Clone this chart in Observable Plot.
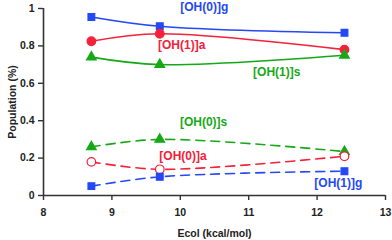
<!DOCTYPE html>
<html>
<head>
<meta charset="utf-8">
<script src="https://cdn.jsdelivr.net/npm/d3@7"></script>
<script src="https://cdn.jsdelivr.net/npm/@observablehq/plot@0.6"></script>
<style>
  html, body { margin: 0; padding: 0; background: #fff; }
  svg { display: block; }
</style>
</head>
<body>
<div id="chart"></div>
<script>
// Data
const ecol = [8.7, 9.7, 12.4];
const oh0g = [0.955, 0.905, 0.87];
const oh1a = [0.825, 0.865, 0.78];
const oh1s = [0.74, 0.70, 0.75];
const oh0s = [0.26, 0.30, 0.235];
const oh0a = [0.18, 0.14, 0.21];
const oh1g = [0.05, 0.10, 0.13];
const xTicks = [8, 9, 10, 11, 12, 13];
const yTicks = [0, 0.2, 0.4, 0.6, 0.8, 1];
const seriesLabels = ["[OH(0)]g", "[OH(1)]a", "[OH(1)]s", "[OH(0)]s", "[OH(0)]a", "[OH(1)]g"];
// label anchor points (data units)
const labelX = [10.35, 10.02, 11.41, 10.34, 10.04, 12.31];
const labelY = [1.005, 0.802, 0.658, 0.39, 0.208, 0.064];

const BLUE = "#2448f5", RED = "#f5203a", GREEN = "#17a817";

const series = [
  {name: seriesLabels[0], values: oh0g, color: BLUE, dash: null, symbol: "square", fill: BLUE, r: 3.8},
  {name: seriesLabels[1], values: oh1a, color: RED, dash: null, symbol: "circle", fill: RED, r: 4.3},
  {name: seriesLabels[2], values: oh1s, color: GREEN, dash: null, symbol: "triangle", fill: GREEN, r: 3.6},
  {name: seriesLabels[3], values: oh0s, color: GREEN, dash: "9,6", symbol: "triangle", fill: GREEN, r: 3.6},
  {name: seriesLabels[4], values: oh0a, color: RED, dash: "9,6", symbol: "circle", fill: "white", r: 4.3},
  {name: seriesLabels[5], values: oh1g, color: BLUE, dash: "9,6", symbol: "square", fill: BLUE, r: 3.8}
];

const marks = [];
for (const s of series) {
  const rows = ecol.map((x, i) => ({x, y: s.values[i]}));
  marks.push(Plot.line(rows, {x: "x", y: "y", stroke: s.color, strokeWidth: 1.6,
    curve: "catmull-rom", strokeDasharray: s.dash ?? undefined}));
}
marks.push(Plot.ruleX([8], {y1: 0, y2: 1, stroke: "#333", strokeWidth: 1.6}));
marks.push(Plot.ruleY([0], {x1: 8, x2: 13, stroke: "#333", strokeWidth: 1.6}));
for (const s of series) {
  const rows = ecol.map((x, i) => ({x, y: s.values[i]}));
  marks.push(Plot.dot(rows, {x: "x", y: "y", symbol: s.symbol, r: s.r,
    fill: s.fill, stroke: s.color, strokeWidth: 1.2}));
}
const labelRows = seriesLabels.map((t, i) => ({t, x: labelX[i], y: labelY[i], c: series[i].color}));
marks.push(Plot.text(labelRows, {x: "x", y: "y", text: "t", fill: d => d.c,
  fontSize: 12, fontWeight: "bold", textAnchor: "middle", lineAnchor: "middle"}));

marks.push(Plot.axisX({ticks: xTicks, tickSize: 5, tickPadding: 8, stroke: "#333",
  strokeWidth: 1.4, fontSize: 10.5, fontWeight: "bold", fill: "#222", label: null,
  tickFormat: d => String(d)}));
marks.push(Plot.axisY({ticks: yTicks, tickSize: 5, tickPadding: 4, stroke: "#333",
  strokeWidth: 1.4, fontSize: 10.5, fontWeight: "bold", fill: "#222", label: null,
  tickFormat: d => String(+d.toFixed(1))}));

marks.push(Plot.text(["Ecol (kcal/mol)"], {frameAnchor: "bottom", dy: 38, text: d => d,
  fontSize: 10.5, fontWeight: "bold", fill: "#222", lineAnchor: "middle"}));
marks.push(Plot.text(["Population (%)"], {frameAnchor: "left", dx: -31, rotate: -90, text: d => d,
  fontSize: 10.5, fontWeight: "bold", fill: "#222", textAnchor: "middle", lineAnchor: "middle"}));

const chart = Plot.plot({
  width: 392,
  height: 240,
  marginLeft: 43,
  marginRight: 7,
  marginTop: 8,
  marginBottom: 45,
  style: {fontFamily: "'Liberation Sans', Arial, sans-serif", background: "white"},
  x: {domain: [8, 13]},
  y: {domain: [0, 1]},
  marks
});
document.getElementById("chart").appendChild(chart);
</script>
</body>
</html>
